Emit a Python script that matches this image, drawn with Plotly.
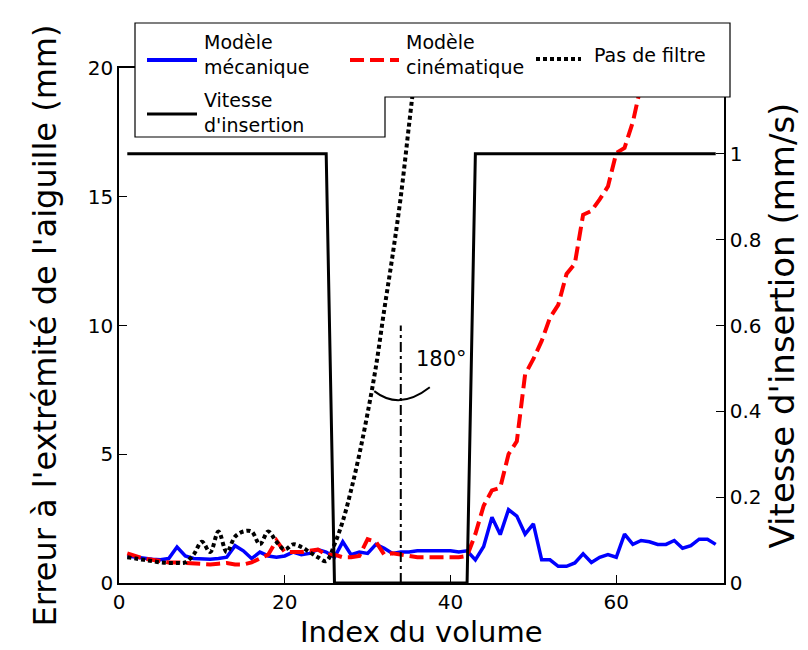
import plotly.graph_objects as go

# ---------------- data ----------------
index_mecanique = list(range(1, 73))
erreur_mecanique = [1.05, 1.0, 0.95, 0.92, 0.9, 0.95, 1.4, 1.05, 0.95, 0.92,
                    0.92, 0.95, 1.0, 1.45, 1.25, 0.95, 1.2, 1.05, 1.0, 1.05,
                    1.2, 1.1, 1.15, 1.3, 1.2, 1.0, 1.6, 1.1, 1.2, 1.15,
                    1.5, 1.35, 1.15, 1.2, 1.2, 1.25, 1.25, 1.25, 1.25, 1.25,
                    1.2, 1.25, 0.9, 1.42, 2.55, 1.88, 2.85, 2.6, 1.9, 2.3,
                    0.9, 0.9, 0.65, 0.65, 0.78, 1.13, 0.8, 1.0, 1.1, 1.0,
                    1.9, 1.5, 1.65, 1.6, 1.5, 1.5, 1.65, 1.35, 1.45, 1.7,
                    1.7, 1.5]

index_cinematique = list(range(1, 65))
erreur_cinematique = [1.15, 1.05, 0.95, 0.9, 0.85, 0.8, 0.8, 0.78, 0.78, 0.75,
                      0.72, 0.75, 0.78, 0.72, 0.72, 0.8, 0.95, 1.1, 1.65, 1.2,
                      1.2, 1.2, 1.25, 1.3, 1.1, 1.1, 1.0, 1.0, 1.05, 1.7,
                      1.6, 1.1, 1.15, 1.1, 1.05, 1.0, 1.0, 1.0, 1.0, 1.0,
                      1.0, 1.05, 1.9, 3.0, 3.6, 3.7, 5.0, 5.5, 8.1, 8.7,
                      9.4, 10.3, 10.8, 12.0, 12.4, 14.3, 14.45, 14.9, 15.4, 16.7,
                      16.9, 17.9, 19.3, 20.8]

index_sans_filtre = list(range(1, 38))
erreur_sans_filtre = [1.0, 0.95, 0.9, 0.85, 0.8, 0.78, 0.78, 0.8, 1.1, 1.6,
                      1.2, 2.0, 1.2, 1.8, 2.0, 2.0, 1.5, 2.0, 1.6, 1.3,
                      1.5, 1.4, 1.2, 1.0, 0.85, 1.5, 2.4, 3.6, 5.0, 6.6,
                      8.4, 10.6, 12.7, 15.0, 17.8, 20.6, 23.5]

index_vitesse = list(range(1, 73))
vitesse_insertion = [1, 1, 1, 1, 1, 1, 1, 1, 1, 1,
                     1, 1, 1, 1, 1, 1, 1, 1, 1, 1,
                     1, 1, 1, 1, 1, 0, 0, 0, 0, 0,
                     0, 0, 0, 0, 0, 0, 0, 0, 0, 0,
                     0, 0, 1, 1, 1, 1, 1, 1, 1, 1,
                     1, 1, 1, 1, 1, 1, 1, 1, 1, 1,
                     1, 1, 1, 1, 1, 1, 1, 1, 1, 1,
                     1, 1]

angle_x = [34, 34]
angle_y = [0, 10]
angle_label = "180°"

x_ticks = [0, 20, 40, 60]
y_ticks = [0, 5, 10, 15, 20]
y2_ticks = [0, 0.2, 0.4, 0.6, 0.8, 1]
y2_ticktext = ["0", "0.2", "0.4", "0.6", "0.8", "1"]

x_title = "Index du volume"
legend_names = ["Modèle<br>mécanique", "Modèle<br>cinématique",
                "Pas de filtre", "Vitesse<br>d'insertion"]

# ---------------- figure ----------------
FONT = "DejaVu Sans"
W, H = 808, 650
L, R, T, B = 111, 716, 60, 575

fig = go.Figure()

fig.add_trace(go.Scatter(x=index_vitesse, y=vitesse_insertion, yaxis="y2",
                         mode="lines", line=dict(color="black", width=3),
                         showlegend=False))
fig.add_trace(go.Scatter(x=index_mecanique, y=erreur_mecanique, mode="lines",
                         line=dict(color="#0000ff", width=3.5), showlegend=False))
fig.add_trace(go.Scatter(x=index_cinematique, y=erreur_cinematique, mode="lines",
                         line=dict(color="#ff0000", width=4, dash="14px,6px"),
                         showlegend=False))
fig.add_trace(go.Scatter(x=index_sans_filtre, y=erreur_sans_filtre, mode="lines",
                         line=dict(color="black", width=4, dash="4px,3px"),
                         line_shape="spline", showlegend=False))
fig.add_trace(go.Scatter(x=angle_x, y=angle_y, mode="lines",
                         line=dict(color="black", width=2, dash="10px,4px,3px,4px"),
                         showlegend=False))


def px(xp):
    return (xp - L) / (R - L)


def py(yp):
    return (B - yp) / (B - T)


shapes = []
# angle arc (data coordinates)
shapes.append(dict(type="path", xref="x", yref="y",
                   path="M 30.8,7.45 Q 33.85,6.68 37.5,7.6",
                   line=dict(color="black", width=2), layer="above"))

# legend box (stepped)
box = [(127, 15), (722, 15), (722, 89), (377, 89), (377, 129), (127, 129)]
path = "M " + " L ".join(f"{px(a):.5f},{py(b):.5f}" for a, b in box) + " Z"
shapes.append(dict(type="path", xref="paper", yref="paper", path=path,
                   fillcolor="white", line=dict(color="black", width=1.2),
                   layer="above"))

# legend samples
samples = [
    ((139, 189, 52), dict(color="#0000ff", width=4)),
    ((342, 391, 52), dict(color="#ff0000", width=4, dash="14px,6px")),
    ((528, 573, 51), dict(color="black", width=4, dash="4px,3px")),
    ((139, 189, 106), dict(color="black", width=3)),
]
for (x0, x1, yy), ln in samples:
    shapes.append(dict(type="line", xref="paper", yref="paper",
                       x0=px(x0), x1=px(x1), y0=py(yy), y1=py(yy),
                       line=ln, layer="above"))

annotations = []
text_pos = [(194, 47), (396, 47), (584, 47), (194, 104)]
for name, (xx, yy) in zip(legend_names, text_pos):
    annotations.append(dict(xref="paper", yref="paper", x=px(xx), y=py(yy),
                            text=name, showarrow=False, xanchor="left",
                            yanchor="middle", align="left",
                            font=dict(family=FONT, size=19, color="black")))

annotations.append(dict(xref="x", yref="y", x=angle_x[0] + 1.6, y=8.7,
                        text=angle_label, showarrow=False, xanchor="left",
                        yanchor="middle",
                        font=dict(family=FONT, size=21, color="black")))

# x axis title
annotations.append(dict(xref="paper", yref="paper", x=0.5, y=py(643),
                        text=x_title, showarrow=False, xanchor="center",
                        yanchor="bottom",
                        font=dict(family=FONT, size=29, color="black")))

axis_common = dict(showgrid=False, zeroline=False, showline=True,
                   linecolor="black", linewidth=1.5, ticks="inside",
                   ticklen=8, tickwidth=1.2, tickcolor="black",
                   automargin=False,
                   tickfont=dict(family=FONT, size=20, color="black"))

fig.update_layout(
    width=W, height=H,
    margin=dict(l=L, r=W - R, t=T, b=H - B, pad=0, autoexpand=False),
    paper_bgcolor="white", plot_bgcolor="white",
    showlegend=False,
    xaxis=dict(range=[0, 73], tickvals=x_ticks, mirror=True,
               **axis_common),
    yaxis=dict(range=[0, 20], tickvals=y_ticks, mirror=False,
               title=dict(text="Erreur à l'extrémité de l'aiguille (mm)",
                          font=dict(family=FONT, size=32, color="black"),
                          standoff=22),
               **axis_common),
    yaxis2=dict(range=[0, 1.2], tickvals=y2_ticks, ticktext=y2_ticktext,
                overlaying="y", side="right",
                title=dict(text="Vitesse d'insertion (mm/s)",
                           font=dict(family=FONT, size=34, color="black"),
                           standoff=4),
                **axis_common),
    shapes=shapes,
    annotations=annotations,
)

fig.write_html("out.html")
